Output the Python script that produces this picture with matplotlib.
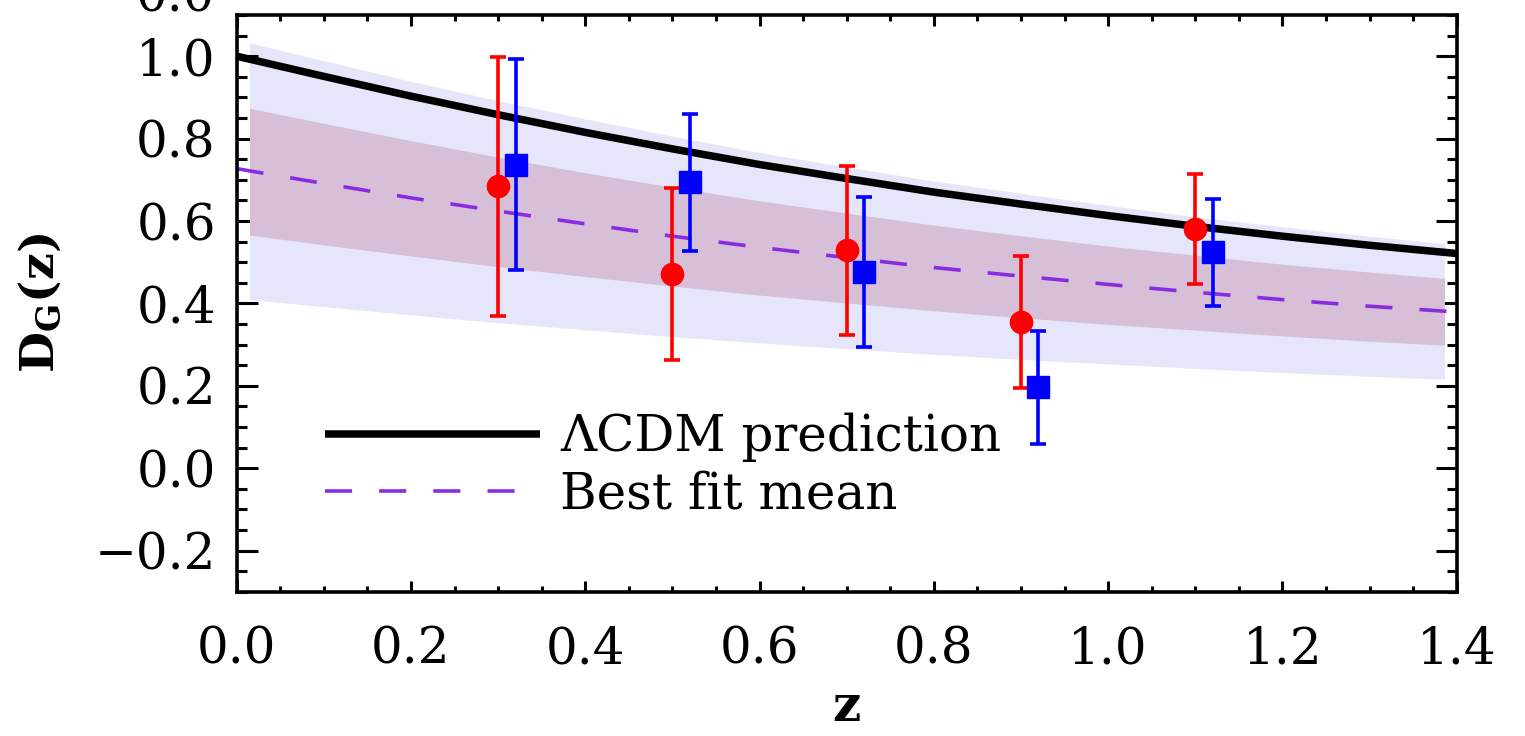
import numpy as np
import matplotlib
matplotlib.use("Agg")
import matplotlib.pyplot as plt
from matplotlib.patches import Rectangle
from matplotlib.ticker import MultipleLocator, FuncFormatter

# Growth function D_G(z): LCDM prediction, best-fit mean and confidence bands
z_grid = [0.0, 0.1, 0.2, 0.3, 0.4, 0.5, 0.6, 0.7, 0.8, 0.9, 1.0, 1.1, 1.2, 1.3, 1.4]
lcdm = [1.000, 0.951, 0.903, 0.858, 0.815, 0.775, 0.737, 0.703, 0.670, 0.641,
        0.613, 0.587, 0.563, 0.541, 0.521]
best_fit = [0.727, 0.691, 0.656, 0.624, 0.593, 0.563, 0.536, 0.511, 0.487, 0.466,
            0.446, 0.427, 0.409, 0.393, 0.379]
inner_hi = [0.880, 0.837, 0.795, 0.755, 0.717, 0.682, 0.649, 0.619, 0.590, 0.564,
            0.539, 0.517, 0.495, 0.476, 0.458]
inner_lo = [0.570, 0.542, 0.515, 0.489, 0.465, 0.442, 0.420, 0.401, 0.382, 0.365,
            0.349, 0.335, 0.321, 0.308, 0.297]
outer_hi = [1.040, 0.989, 0.939, 0.892, 0.848, 0.806, 0.766, 0.731, 0.697, 0.667,
            0.638, 0.610, 0.586, 0.563, 0.542]
outer_lo = [0.412, 0.392, 0.372, 0.353, 0.336, 0.319, 0.304, 0.290, 0.276, 0.264,
            0.253, 0.242, 0.232, 0.223, 0.215]
band_range = (0.015, 1.385)

# Measurements: two data sets
z_red = [0.30, 0.50, 0.70, 0.90, 1.10]
d_red = [0.684, 0.471, 0.529, 0.355, 0.580]
e_red = [0.315, 0.208, 0.205, 0.161, 0.133]

z_blue = [0.32, 0.52, 0.72, 0.92, 1.12]
d_blue = [0.737, 0.694, 0.476, 0.196, 0.524]
e_blue = [0.255, 0.166, 0.183, 0.137, 0.130]

legend_labels = ["\u039bCDM prediction", "Best fit mean"]

plt.rcParams["font.family"] = ["DejaVu Serif"]
plt.rcParams["mathtext.fontset"] = "dejavuserif"

FS = 36
W, H = 1525, 736
fig = plt.figure(figsize=(W / 100, H / 100), dpi=100)
ax = fig.add_axes([236.7 / W, 1 - 591.7 / H, 1220 / W, 576.7 / H])

ax.set_xlim(0.0, 1.4)
ax.set_ylim(-0.3, 1.1)

clip = Rectangle((band_range[0], -1.0), band_range[1] - band_range[0], 3.0,
                 transform=ax.transData, visible=False)
ax.add_patch(clip)
b1 = ax.fill_between(z_grid, outer_lo, outer_hi, color="#E6E6FA", lw=0, zorder=1)
b2 = ax.fill_between(z_grid, inner_lo, inner_hi, color="#D8BFD8", lw=0, zorder=2)
b1.set_clip_path(clip)
b2.set_clip_path(clip)

ax.plot(z_grid, lcdm, color="black", lw=5.4, solid_capstyle="butt", zorder=3,
        label=legend_labels[0])
ax.plot(z_grid, best_fit, color="#8A2BE2", lw=2.6, dashes=(7.5, 7.5), zorder=3,
        label=legend_labels[1])

ax.errorbar(z_red, d_red, yerr=e_red, fmt="o", color="red", ms=16,
            elinewidth=2.6, capsize=6, capthick=2.6, zorder=5)
ax.errorbar(z_blue, d_blue, yerr=e_blue, fmt="s", color="blue", ms=16,
            elinewidth=2.6, capsize=6, capthick=2.6, zorder=5)

# Axes frame and ticks
for s in ax.spines.values():
    s.set_linewidth(2.6)
    s.set_zorder(6)
ax.xaxis.set_major_locator(MultipleLocator(0.2))
ax.xaxis.set_minor_locator(MultipleLocator(0.05))
ax.yaxis.set_major_locator(MultipleLocator(0.2))
ax.yaxis.set_minor_locator(MultipleLocator(0.05))
ax.tick_params(axis="both", which="both", direction="in", top=True, right=True,
               width=2.2, labelsize=FS)
ax.tick_params(axis="x", which="major", length=8, pad=24)
ax.tick_params(axis="x", which="minor", length=4.3)
ax.tick_params(axis="y", which="major", length=15, pad=15)
ax.tick_params(axis="y", which="minor", length=7.5)

fmt = FuncFormatter(lambda v, p: f"{v:.1f}".replace("-", "\u2212"))
ax.xaxis.set_major_formatter(fmt)
ax.yaxis.set_major_formatter(fmt)

ax.set_xlabel("z", fontsize=FS, fontweight="bold", labelpad=6)
ax.set_ylabel(r"$\mathbf{D_G(z)}$", fontsize=FS - 2, labelpad=22)

ax.legend(loc="upper left", bbox_to_anchor=(0.0724, 0.31), frameon=False,
          fontsize=FS, handlelength=4.3, handletextpad=0.4, labelspacing=0.16,
          borderaxespad=0, borderpad=0)

# label of the neighbouring panel, cut by the top edge
fig.text(215 / W, 1 + 2 / H, "0.0", ha="right", va="center", fontsize=FS)

fig.savefig("out.png", dpi=100)
